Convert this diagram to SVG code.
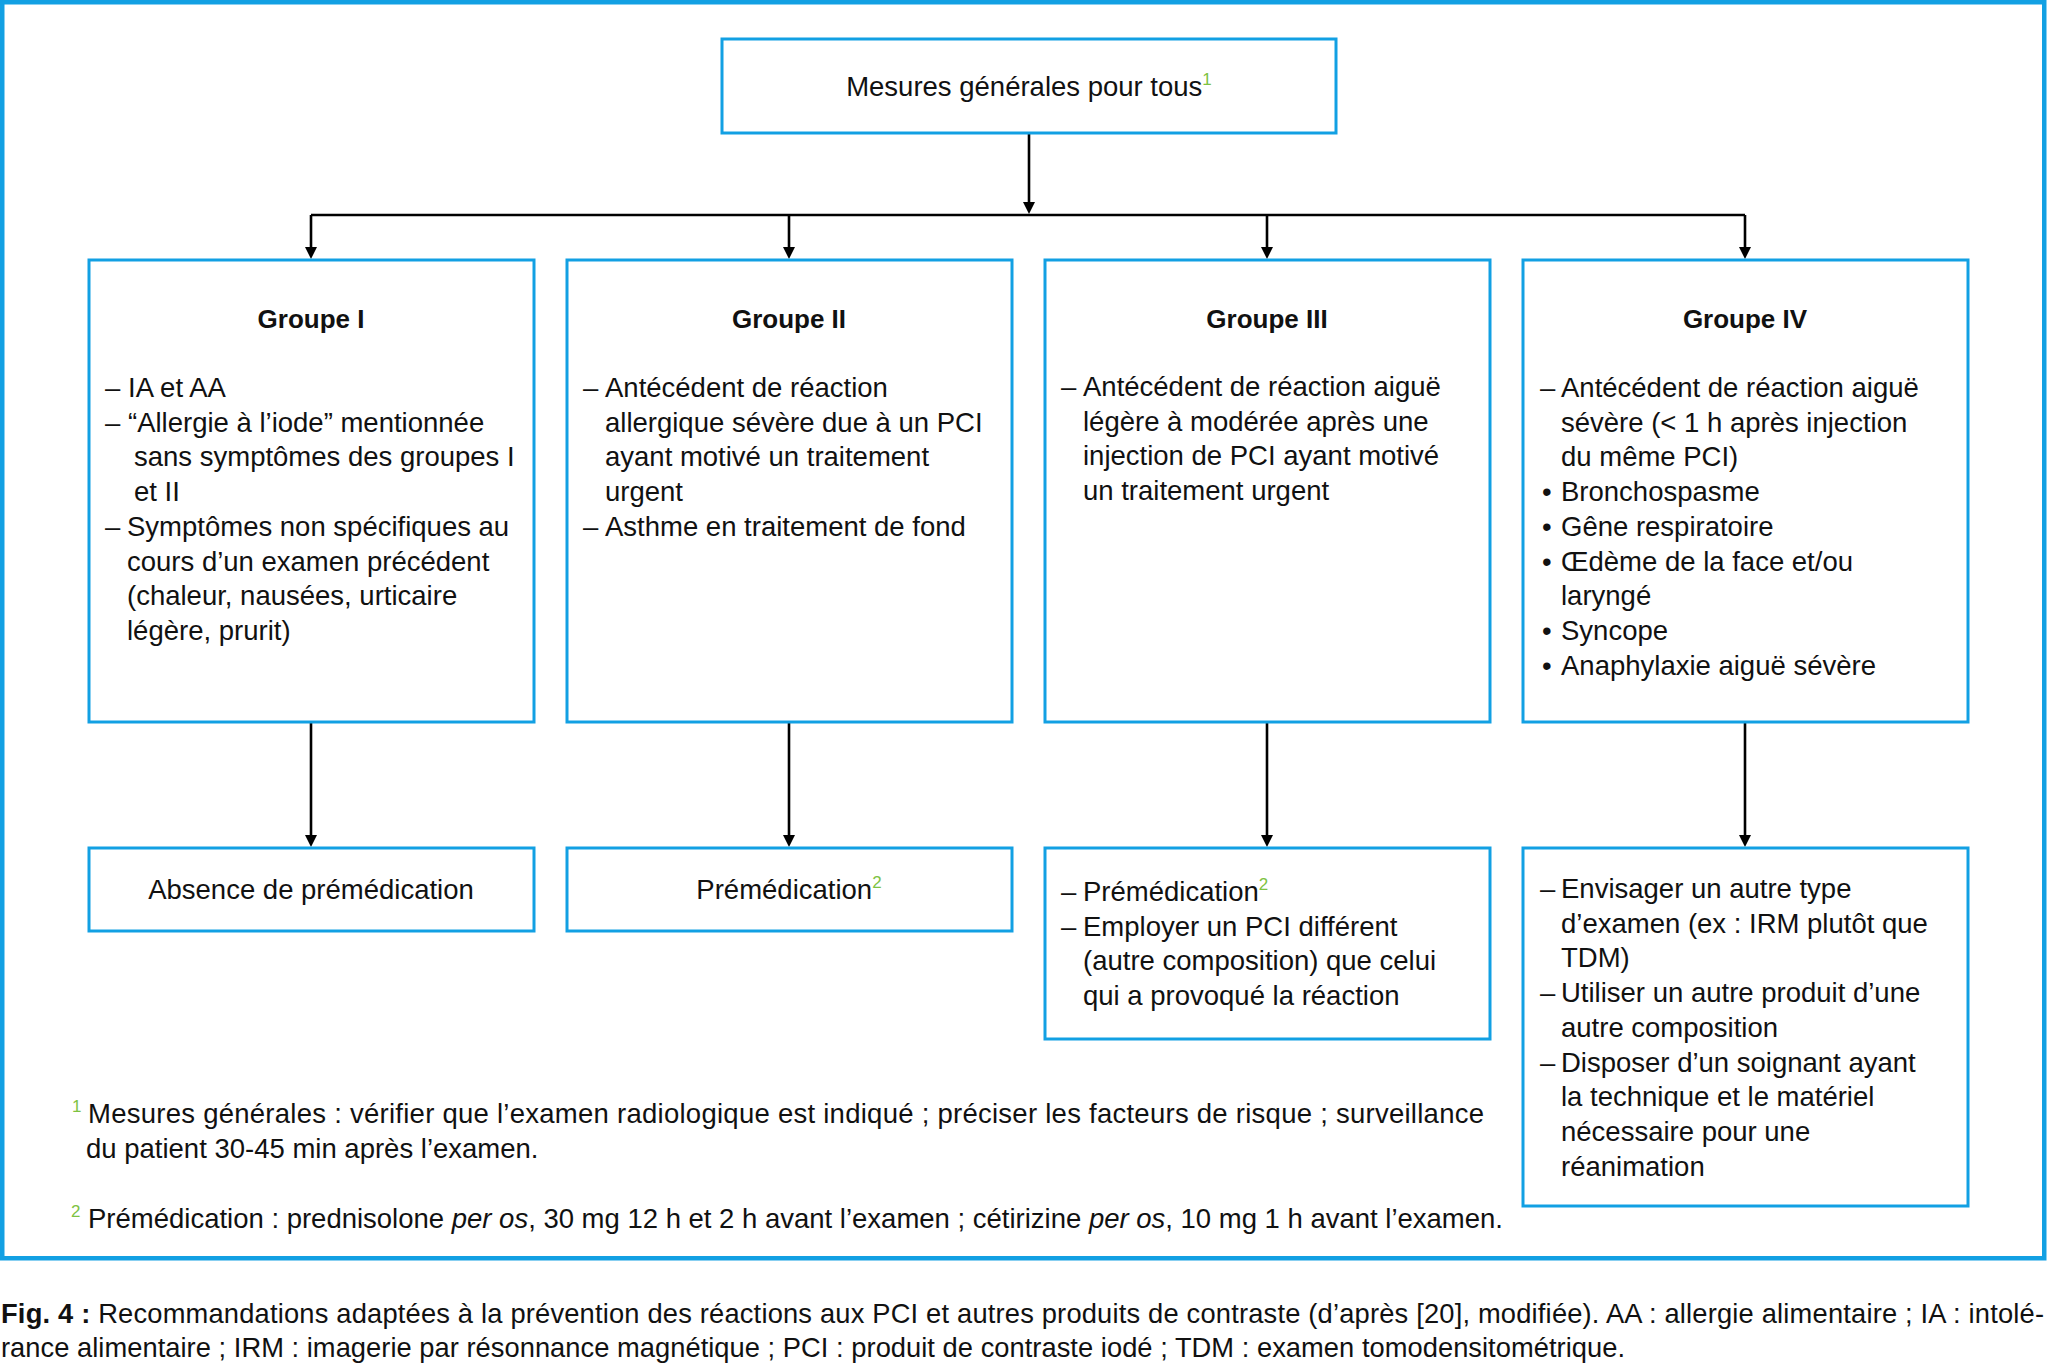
<svg xmlns="http://www.w3.org/2000/svg" width="2048" height="1364" viewBox="0 0 2048 1364">
<defs>
<style>
.box{fill:#fff;stroke:#12a0e3;stroke-width:3}
.frame{fill:none;stroke:#12a0e3;stroke-width:4.5}
.t{font-family:"Liberation Sans",Arial,sans-serif;font-size:27.5px;fill:#111}
.h{font-family:"Liberation Sans",Arial,sans-serif;font-size:26px;font-weight:bold;fill:#111;text-anchor:middle}
.c{text-anchor:middle}
.fn{font-family:"Liberation Sans",Arial,sans-serif;font-size:27.5px;fill:#111}
.cap{font-family:"Liberation Sans",Arial,sans-serif;font-size:27.3px;fill:#111}
.sup{font-family:"Liberation Sans",Arial,sans-serif;font-size:17px;fill:#7dc242}
.ln{fill:none;stroke:#000;stroke-width:2.6}
</style>
<marker id="ah" viewBox="0 0 12 12" refX="6" refY="6" markerWidth="12" markerHeight="12" markerUnits="userSpaceOnUse" orient="auto"><path d="M0,0 L12,6 L0,12 z" fill="#000"/></marker>
</defs>
<rect width="2048" height="1364" fill="#fff"/>
<rect class="frame" x="2.25" y="2.25" width="2042" height="1256"/>

<g id="connectors">
<path class="ln" d="M1029,133 V208" marker-end="url(#ah)"/>
<path class="ln" d="M311,215 H1745"/>
<path class="ln" d="M311,215 V253" marker-end="url(#ah)"/>
<path class="ln" d="M789,215 V253" marker-end="url(#ah)"/>
<path class="ln" d="M1267,215 V253" marker-end="url(#ah)"/>
<path class="ln" d="M1745,215 V253" marker-end="url(#ah)"/>
<path class="ln" d="M311,722 V841" marker-end="url(#ah)"/>
<path class="ln" d="M789,722 V841" marker-end="url(#ah)"/>
<path class="ln" d="M1267,722 V841" marker-end="url(#ah)"/>
<path class="ln" d="M1745,722 V841" marker-end="url(#ah)"/>
</g>

<g id="top">
<rect class="box" x="722" y="39" width="614" height="94"/>
<text class="t c" x="1029" y="96">Mesures générales pour tous<tspan class="sup" dy="-11">1</tspan></text>
</g>

<g id="groupe1">
<rect class="box" x="89" y="260" width="445" height="462"/>
<text class="h" x="311" y="328">Groupe I</text>
<text class="t" x="105" y="397">–</text><text class="t" x="128" y="397">IA et AA</text>
<text class="t" x="105" y="431.7">–</text><text class="t" x="128" y="431.7">“Allergie à l’iode” mentionnée</text>
<text class="t" x="134" y="466.4">sans symptômes des groupes I</text>
<text class="t" x="134" y="501.1">et II</text>
<text class="t" x="105" y="535.8">–</text><text class="t" x="127" y="535.8">Symptômes non spécifiques au</text>
<text class="t" x="127" y="570.5">cours d’un examen précédent</text>
<text class="t" x="127" y="605.2">(chaleur, nausées, urticaire</text>
<text class="t" x="127" y="639.9">légère, prurit)</text>
</g>

<g id="groupe2">
<rect class="box" x="567" y="260" width="445" height="462"/>
<text class="h" x="789" y="328">Groupe II</text>
<text class="t" x="583" y="397">–</text><text class="t" x="605" y="397">Antécédent de réaction</text>
<text class="t" x="605" y="431.7">allergique sévère due à un PCI</text>
<text class="t" x="605" y="466.4">ayant motivé un traitement</text>
<text class="t" x="605" y="501.1">urgent</text>
<text class="t" x="583" y="535.8">–</text><text class="t" x="605" y="535.8">Asthme en traitement de fond</text>
</g>

<g id="groupe3">
<rect class="box" x="1045" y="260" width="445" height="462"/>
<text class="h" x="1267" y="328">Groupe III</text>
<text class="t" x="1061" y="396">–</text><text class="t" x="1083" y="396">Antécédent de réaction aiguë</text>
<text class="t" x="1083" y="430.7">légère à modérée après une</text>
<text class="t" x="1083" y="465.4">injection de PCI ayant motivé</text>
<text class="t" x="1083" y="500.1">un traitement urgent</text>
</g>

<g id="groupe4">
<rect class="box" x="1523" y="260" width="445" height="462"/>
<text class="h" x="1745" y="328">Groupe IV</text>
<text class="t" x="1540" y="397">–</text><text class="t" x="1561" y="397">Antécédent de réaction aiguë</text>
<text class="t" x="1561" y="431.7">sévère (&lt; 1 h après injection</text>
<text class="t" x="1561" y="466.4">du même PCI)</text>
<text class="t" x="1542" y="501.1">•</text><text class="t" x="1561" y="501.1">Bronchospasme</text>
<text class="t" x="1542" y="535.8">•</text><text class="t" x="1561" y="535.8">Gêne respiratoire</text>
<text class="t" x="1542" y="570.5">•</text><text class="t" x="1561" y="570.5">Œdème de la face et/ou</text>
<text class="t" x="1561" y="605.2">laryngé</text>
<text class="t" x="1542" y="639.9">•</text><text class="t" x="1561" y="639.9">Syncope</text>
<text class="t" x="1542" y="674.6">•</text><text class="t" x="1561" y="674.6">Anaphylaxie aiguë sévère</text>
</g>

<g id="resultat1">
<rect class="box" x="89" y="848" width="445" height="83"/>
<text class="t c" x="311" y="899">Absence de prémédication</text>
</g>

<g id="resultat2">
<rect class="box" x="567" y="848" width="445" height="83"/>
<text class="t c" x="789" y="899">Prémédication<tspan class="sup" dy="-11">2</tspan></text>
</g>

<g id="resultat3">
<rect class="box" x="1045" y="848" width="445" height="191"/>
<text class="t" x="1061" y="901">–</text><text class="t" x="1083" y="901">Prémédication<tspan class="sup" dy="-11">2</tspan></text>
<text class="t" x="1061" y="935.7">–</text><text class="t" x="1083" y="935.7">Employer un PCI différent</text>
<text class="t" x="1083" y="970.4">(autre composition) que celui</text>
<text class="t" x="1083" y="1005.1">qui a provoqué la réaction</text>
</g>

<g id="resultat4">
<rect class="box" x="1523" y="848" width="445" height="358"/>
<text class="t" x="1540" y="898">–</text><text class="t" x="1561" y="898">Envisager un autre type</text>
<text class="t" x="1561" y="932.7">d’examen (ex : IRM plutôt que</text>
<text class="t" x="1561" y="967.4">TDM)</text>
<text class="t" x="1540" y="1002.1">–</text><text class="t" x="1561" y="1002.1">Utiliser un autre produit d’une</text>
<text class="t" x="1561" y="1036.8">autre composition</text>
<text class="t" x="1540" y="1071.5">–</text><text class="t" x="1561" y="1071.5">Disposer d’un soignant ayant</text>
<text class="t" x="1561" y="1106.2">la technique et le matériel</text>
<text class="t" x="1561" y="1140.9">nécessaire pour une</text>
<text class="t" x="1561" y="1175.6">réanimation</text>
</g>

<g id="notes">
<text class="sup" x="72" y="1112">1</text>
<text class="fn" x="88" y="1123" textLength="1396" lengthAdjust="spacing">Mesures générales : vérifier que l’examen radiologique est indiqué ; préciser les facteurs de risque ; surveillance</text>
<text class="fn" x="86" y="1158">du patient 30-45 min après l’examen.</text>
<text class="sup" x="71" y="1217">2</text>
<text class="fn" x="88" y="1228" textLength="1415" lengthAdjust="spacing">Prémédication : prednisolone <tspan font-style="italic">per os</tspan>, 30 mg 12 h et 2 h avant l’examen ; cétirizine <tspan font-style="italic">per os</tspan>, 10 mg 1 h avant l’examen.</text>
</g>

<g id="caption">
<text class="cap" x="1" y="1323" textLength="2043" lengthAdjust="spacing"><tspan font-weight="bold">Fig. 4 :</tspan> Recommandations adaptées à la prévention des réactions aux PCI et autres produits de contraste (d’après [20], modifiée). AA : allergie alimentaire ; IA : intolé-</text>
<text class="cap" x="1" y="1357" textLength="1624" lengthAdjust="spacing">rance alimentaire ; IRM : imagerie par résonnance magnétique ; PCI : produit de contraste iodé ; TDM : examen tomodensitométrique.</text>
</g>
</svg>
